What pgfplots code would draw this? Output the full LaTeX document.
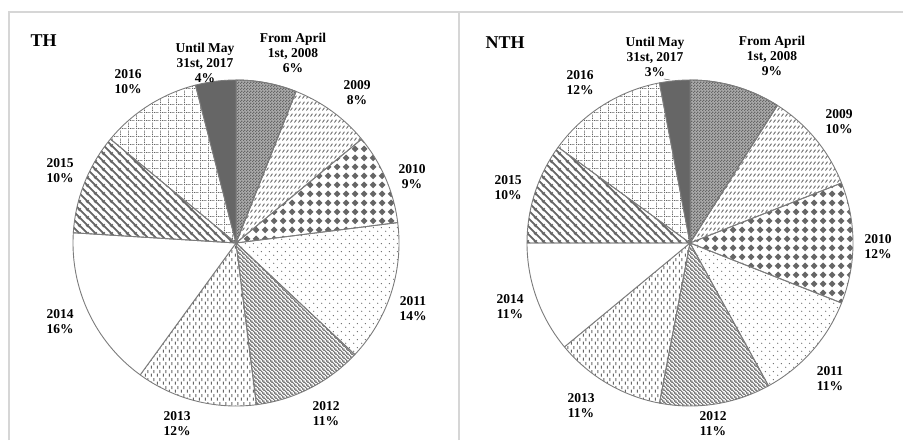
\documentclass[border=0pt]{standalone}
\usepackage{pgfplots}
\pgfplotsset{compat=1.18}
\usepackage{pgfplotstable}
\usetikzlibrary{patterns}
\usepackage{fontspec}
\setmainfont{Liberation Serif}

\definecolor{pg}{HTML}{666666}
\definecolor{edge}{HTML}{7C7C7C}
\definecolor{framec}{HTML}{D6D6D6}

% custom patterns
\pgfdeclarepatternformonly{finechecker}{\pgfpoint{0pt}{0pt}}{\pgfpoint{3pt}{3pt}}{\pgfpoint{3pt}{3pt}}{%
  \pgfpathrectangle{\pgfpoint{0pt}{0pt}}{\pgfpoint{1.6pt}{1.6pt}}%
  \pgfpathrectangle{\pgfpoint{1.5pt}{1.5pt}}{\pgfpoint{1.5pt}{1.5pt}}%
  \pgfusepath{fill}}
\pgfdeclarepatternformonly{diamonds}{\pgfpoint{0pt}{0pt}}{\pgfpoint{9pt}{9pt}}{\pgfpoint{9pt}{9pt}}{%
  \pgfpathmoveto{\pgfpoint{4.5pt}{0.8pt}}%
  \pgfpathlineto{\pgfpoint{8.2pt}{4.5pt}}%
  \pgfpathlineto{\pgfpoint{4.5pt}{8.2pt}}%
  \pgfpathlineto{\pgfpoint{0.8pt}{4.5pt}}%
  \pgfpathclose\pgfusepath{fill}}
\pgfdeclarepatternformonly{sparsedots}{\pgfpoint{0pt}{0pt}}{\pgfpoint{8pt}{8pt}}{\pgfpoint{8pt}{8pt}}{%
  \pgfpathcircle{\pgfpoint{2pt}{2pt}}{0.75pt}%
  \pgfpathcircle{\pgfpoint{6pt}{6pt}}{0.75pt}%
  \pgfusepath{fill}}
\pgfdeclarepatternformonly{vdash}{\pgfpoint{0pt}{0pt}}{\pgfpoint{6pt}{8pt}}{\pgfpoint{6pt}{8pt}}{%
  \pgfsetlinewidth{1.2pt}%
  \pgfpathmoveto{\pgfpoint{1.5pt}{0.3pt}}\pgfpathlineto{\pgfpoint{1.5pt}{3.7pt}}%
  \pgfpathmoveto{\pgfpoint{4.5pt}{4.3pt}}\pgfpathlineto{\pgfpoint{4.5pt}{7.7pt}}%
  \pgfusepath{stroke}}
\pgfdeclarepatternformonly{slashdash}{\pgfpoint{0pt}{0pt}}{\pgfpoint{3.5pt}{6pt}}{\pgfpoint{3.5pt}{6pt}}{%
  \pgfsetlinewidth{1pt}%
  \pgfpathmoveto{\pgfpoint{0.5pt}{0.6pt}}\pgfpathlineto{\pgfpoint{2.8pt}{3.8pt}}%
  \pgfusepath{stroke}}
\pgfdeclarepatternformonly{densenw}{\pgfpoint{0pt}{0pt}}{\pgfpoint{4pt}{4pt}}{\pgfpoint{4pt}{4pt}}{%
  \pgfsetlinewidth{1.1pt}%
  \pgfpathmoveto{\pgfpoint{-1pt}{5pt}}\pgfpathlineto{\pgfpoint{5pt}{-1pt}}%
  \pgfpathmoveto{\pgfpoint{-1pt}{1pt}}\pgfpathlineto{\pgfpoint{1pt}{-1pt}}%
  \pgfpathmoveto{\pgfpoint{3pt}{5pt}}\pgfpathlineto{\pgfpoint{5pt}{3pt}}%
  \pgfusepath{stroke}}
\pgfdeclarepatternformonly{widenw}{\pgfpoint{0pt}{0pt}}{\pgfpoint{8pt}{8pt}}{\pgfpoint{8pt}{8pt}}{%
  \pgfsetlinewidth{2pt}%
  \pgfpathmoveto{\pgfpoint{-1pt}{9pt}}\pgfpathlineto{\pgfpoint{9pt}{-1pt}}%
  \pgfpathmoveto{\pgfpoint{-1pt}{1pt}}\pgfpathlineto{\pgfpoint{1pt}{-1pt}}%
  \pgfpathmoveto{\pgfpoint{7pt}{9pt}}\pgfpathlineto{\pgfpoint{9pt}{7pt}}%
  \pgfusepath{stroke}}
\pgfdeclarepatternformonly{dotgrid}{\pgfpoint{0pt}{0pt}}{\pgfpoint{8pt}{8pt}}{\pgfpoint{8pt}{8pt}}{%
  \pgfpathrectangle{\pgfpoint{0pt}{0pt}}{\pgfpoint{1.1pt}{1.1pt}}%
  \pgfpathrectangle{\pgfpoint{2pt}{0pt}}{\pgfpoint{1.1pt}{1.1pt}}%
  \pgfpathrectangle{\pgfpoint{4pt}{0pt}}{\pgfpoint{1.1pt}{1.1pt}}%
  \pgfpathrectangle{\pgfpoint{6pt}{0pt}}{\pgfpoint{1.1pt}{1.1pt}}%
  \pgfpathrectangle{\pgfpoint{0pt}{2pt}}{\pgfpoint{1.1pt}{1.1pt}}%
  \pgfpathrectangle{\pgfpoint{0pt}{4pt}}{\pgfpoint{1.1pt}{1.1pt}}%
  \pgfpathrectangle{\pgfpoint{0pt}{6pt}}{\pgfpoint{1.1pt}{1.1pt}}%
  \pgfusepath{fill}}

\tikzset{
  s0/.style={fill=pg!55, postaction={pattern=finechecker, pattern color=pg}},
  s1/.style={pattern=slashdash, pattern color=pg},
  s2/.style={pattern=diamonds, pattern color=pg},
  s3/.style={pattern=sparsedots, pattern color=pg},
  s4/.style={pattern=densenw, pattern color=pg},
  s5/.style={pattern=vdash, pattern color=pg},
  s6/.style={fill=white},
  s7/.style={pattern=widenw, pattern color=pg},
  s8/.style={pattern=dotgrid, pattern color=pg},
  s9/.style={fill=pg},
  lab/.style={align=center, font=\fontsize{13.5}{15}\selectfont\bfseries, inner sep=0pt},
}

% shares in percent, clockwise from 12 o'clock
\pgfplotstableread{
year th nth
2008 6 9
2009 8 10
2010 9 12
2011 14 11
2012 11 11
2013 12 11
2014 16 11
2015 10 10
2016 10 12
2017 4 3
}\piedata

\newcommand\drawpie[3]{%
  \xdef\startang{0}%
  \foreach \i in {0,...,9} {%
    \pgfplotstablegetelem{\i}{#1}\of\piedata
    \pgfmathsetmacro\endang{\startang+3.6*\pgfplotsretval}%
    \edef\doslice{\noexpand\addplot[draw=edge, line width=0.9pt, line join=round, s\i, domain=\startang:\endang, samples=80, variable=\noexpand\t] ({#2+163*sin(\noexpand\t)}, {#3+163*cos(\noexpand\t)}) -- (axis cs:#2,#3) -- cycle;}%
    \doslice
    \xdef\startang{\endang}%
  }%
}

\begin{document}
\begin{tikzpicture}
\begin{axis}[scale only axis, width=903pt, height=440pt,
  xmin=0, xmax=903, ymin=0, ymax=440, hide axis, clip=false]
  % panel frames
  \draw[framec, line width=1.3pt] (axis cs:9,0) -- (axis cs:9,428) -- (axis cs:903,428);
  \draw[framec, line width=1.3pt] (axis cs:459,0) -- (axis cs:459,428);

  \drawpie{th}{236}{197}
  \drawpie{nth}{690}{197}

  % TH labels
  \node[anchor=west, font=\fontsize{18}{20}\selectfont\bfseries] at (axis cs:27,399) {TH};
  \node[lab] at (axis cs:293,387) {From April\\1st, 2008\\6\%};
  \node[lab] at (axis cs:205,377) {Until May\\31st, 2017\\4\%};
  \node[lab] at (axis cs:128,358) {2016\\10\%};
  \node[lab] at (axis cs:357,347) {2009\\8\%};
  \node[lab] at (axis cs:412,263) {2010\\9\%};
  \node[lab] at (axis cs:60,269) {2015\\10\%};
  \node[lab] at (axis cs:60,118) {2014\\16\%};
  \node[lab] at (axis cs:413,131) {2011\\14\%};
  \node[lab] at (axis cs:326,26) {2012\\11\%};
  \node[lab] at (axis cs:177,16) {2013\\12\%};

  % NTH labels
  \node[anchor=west, font=\fontsize{18}{20}\selectfont\bfseries] at (axis cs:482,397) {NTH};
  \node[lab] at (axis cs:655,383) {Until May\\31st, 2017\\3\%};
  \node[lab] at (axis cs:772,384) {From April\\1st, 2008\\9\%};
  \node[lab] at (axis cs:580,357) {2016\\12\%};
  \node[lab] at (axis cs:839,318) {2009\\10\%};
  \node[lab] at (axis cs:508,252) {2015\\10\%};
  \node[lab] at (axis cs:878,193) {2010\\12\%};
  \node[lab] at (axis cs:510,133) {2014\\11\%};
  \node[lab] at (axis cs:830,61) {2011\\11\%};
  \node[lab] at (axis cs:581,34) {2013\\11\%};
  \node[lab] at (axis cs:713,16) {2012\\11\%};
  \draw[edge, line width=0.6pt] (axis cs:664,361) -- (axis cs:670,360);
\end{axis}
\pgfresetboundingbox
\path[use as bounding box] (current axis.south west) rectangle (current axis.north east);
\end{tikzpicture}
\end{document}
